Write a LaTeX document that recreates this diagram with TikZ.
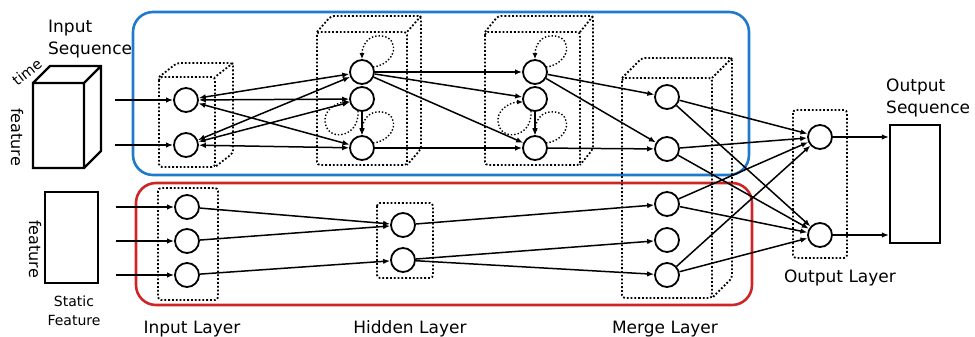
\documentclass[tikz,border=0pt]{standalone}
\usepackage{fontspec}
\setmainfont{DejaVu Sans}
\usetikzlibrary{arrows.meta,calc}

\definecolor{seqblue}{RGB}{30,122,204}
\definecolor{statred}{RGB}{206,38,38}

% cuboid: style, front x1,y1,x2,y2, depth dx,dy
\newcommand{\dcube}[7]{%
  \draw[#1] (#2,#3) rectangle (#4,#5)
    (#2,#3) -- (#2+#6,#3-#7) -- (#4+#6,#3-#7) -- (#4+#6,#5-#7) -- (#4,#5)
    (#4+#6,#3-#7) -- (#4,#3);
}
% recurrent self loops
\newcommand{\looptop}[1]{%
  \draw[recur] ($(#1)+(11,-5)$) .. controls ($(#1)+(35,-8)$) and ($(#1)+(38,-34)$) ..
    ($(#1)+(20,-36)$) .. controls ($(#1)+(6,-38)$) and ($(#1)+(0,-26)$) .. (#1.north);
}
\newcommand{\loopleft}[1]{%
  \draw[recur] ($(#1)+(-4,12)$) .. controls ($(#1)+(-2,40)$) and ($(#1)+(-38,44)$) ..
    ($(#1)+(-37,20)$) .. controls ($(#1)+(-36,8)$) and ($(#1)+(-22,3)$) .. ($(#1)+(-12,3)$);
}

\tikzset{
  neuron/.style={circle, draw, line width=1.8pt, minimum size=24pt, inner sep=0pt},
  conn/.style={line width=1.5pt, -{Latex[length=7pt,width=5.5pt]}},
  biconn/.style={line width=1.5pt, {Latex[length=7pt,width=5.5pt]}-{Latex[length=7pt,width=5.5pt]}},
  layerbox/.style={dotted, line width=1.8pt, rounded corners=3pt},
  recur/.style={dotted, line width=1.4pt, -{Latex[length=6pt,width=5pt]}},
  solidbox/.style={draw, line width=2.2pt, inner sep=0pt},
  lbl/.style={font=\fontsize{17}{22}\selectfont, inner sep=0pt},
  smalllbl/.style={font=\fontsize{14}{19}\selectfont, inner sep=0pt},
  group/.style={line width=2.6pt, rounded corners=20pt},
}

\begin{document}
\begin{tikzpicture}[x=1pt, y=-1pt]
\useasboundingbox (0,0) rectangle (975,337);

% branch frames
\draw[group, seqblue] (133,12) rectangle (749,175);
\draw[group, statred] (136,183) rectangle (752,305);

% input sequence block
\dcube{line width=2.2pt}{33}{83}{84}{168}{17}{17}
\node[lbl, anchor=north west, align=left] (tIn) at (48,20) {Input\\Sequence};
\node[lbl, font=\fontsize{14.5}{14.5}\selectfont, rotate=38] (tTime) at (27,72) {time};
\node[lbl, font=\fontsize{16}{16}\selectfont, rotate=-90] (tFeat1) at (17,137) {feature};

% static feature block
\node[solidbox, minimum width=53pt, minimum height=91pt] (SF) at (71.5,237.5) {};
\node[lbl, font=\fontsize{16}{16}\selectfont, rotate=-90] (tFeat2) at (35,249) {feature};
\node[smalllbl, anchor=north, align=center] (tStat) at (74,296) {Static\\Feature};

% layer frames
\dcube{layerbox}{159}{77}{215}{167}{18}{14}
\dcube{layerbox}{317}{32}{407}{165}{14}{16}
\dcube{layerbox}{485}{32}{580}{165}{13}{16}
\dcube{layerbox}{622}{78}{712}{298}{20}{20}
\draw[layerbox] (158,188) rectangle (218,300);
\draw[layerbox] (377,203) rectangle (433,278);
\draw[layerbox] (793,110) rectangle (847,258);

% neurons
\node[neuron] (I1) at (186,100) {};
\node[neuron] (I2) at (186,145) {};
\node[neuron] (H1) at (362,72) {};
\node[neuron] (H2) at (362,99) {};
\node[neuron] (H3) at (362,148) {};
\node[neuron] (G1) at (535,72) {};
\node[neuron] (G2) at (535,99) {};
\node[neuron] (G3) at (535,148) {};
\node[neuron] (M1) at (667,97) {};
\node[neuron] (M2) at (667,149) {};
\node[neuron] (M3) at (667,204) {};
\node[neuron] (M4) at (667,240) {};
\node[neuron] (M5) at (667,275) {};
\node[neuron] (O1) at (820,137) {};
\node[neuron] (O2) at (820,235) {};
\node[neuron] (S1) at (187,207) {};
\node[neuron] (S2) at (187,241) {};
\node[neuron] (S3) at (187,275) {};
\node[neuron] (T1) at (403,225) {};
\node[neuron] (T2) at (403,260) {};

% output sequence block
\node[solidbox, minimum width=50pt, minimum height=118pt] (OS) at (915,184) {};
\node[lbl, anchor=north west, align=left] (tOut) at (886,79) {Output\\Sequence};

% input feeds
\coordinate (a1) at (115,100);
\coordinate (a2) at (115,145);
\coordinate (b1) at (116,207);
\coordinate (b2) at (116,241);
\coordinate (b3) at (116,275);
\draw[conn] (a1) -- (I1);
\draw[conn] (a2) -- (I2);
\draw[conn] (b1) -- (S1);
\draw[conn] (b2) -- (S2);
\draw[conn] (b3) -- (S3);

% sequence branch
\foreach \s in {I1,I2}
  \foreach \t in {H1,H2,H3}
    \draw[biconn] (\s) -- (\t);
\draw[conn] (H1) -- (G1);
\draw[conn] (H1) -- (G2);
\draw[conn] (H1) -- (G3);
\draw[conn] (H3) -- (G3);
\draw[conn] (H2) -- (H3);
\draw[conn] (G2) -- (G3);
\looptop{H1}
\looptop{H3}
\loopleft{H2}
\looptop{G1}
\looptop{G3}
\loopleft{G2}
\draw[conn] (G1) -- (M1);
\draw[conn] (G1) -- (M2);
\draw[conn] (G3) -- (M2);

% static branch
\draw[conn] (S1) -- (T1);
\draw[conn] (S2) -- (T1);
\draw[conn] (S3) -- (T2);
\draw[conn] (T1) -- (M3);
\draw[conn] (T2) -- (M4);
\draw[conn] (T2) -- (M5);

% merge to output
\foreach \m in {M1,M2,M3,M5}
  \foreach \o in {O1,O2}
    \draw[conn] (\m) -- (\o);
\draw[conn] (O1) -- (OS.west |- O1);
\draw[conn] (O2) -- (OS.west |- O2);

% layer captions
\node[lbl, anchor=base] (lIn) at (192,333) {Input Layer};
\node[lbl, anchor=base] (lHid) at (410,333) {Hidden Layer};
\node[lbl, anchor=base] (lMer) at (665,333) {Merge Layer};
\node[lbl, anchor=base] (lOut) at (840,282) {Output Layer};
\end{tikzpicture}
\end{document}
